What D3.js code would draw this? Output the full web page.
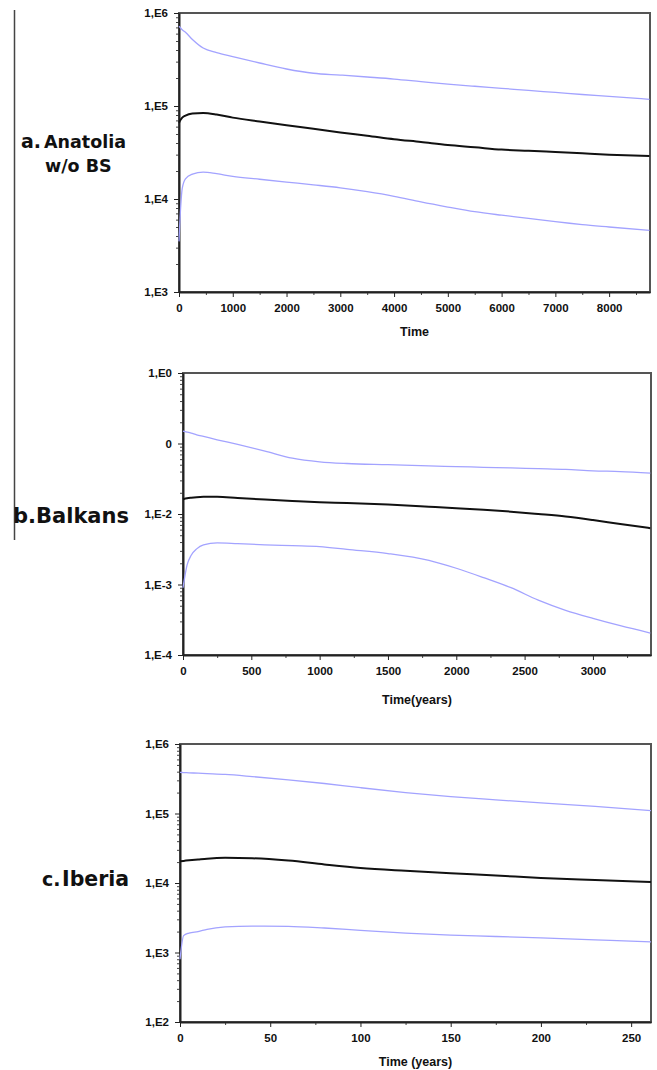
<!DOCTYPE html>
<html>
<head>
<meta charset="utf-8">
<script src="https://cdn.jsdelivr.net/npm/d3@7"></script>
<style>
body { margin: 0; background: #fff; }
</style>
</head>
<body>
<div id="container"></div>
<script>
// Declare the page dimensions.
const width = 657;
const height = 1070;

// Panel a: Anatolia w/o BS
const anatoliaTime = [0, 30, 60, 120, 250, 450, 700, 1000, 1500, 2000, 2500, 3000, 3500, 4000, 4500, 5000, 5500, 6000, 6500, 7000, 7500, 8000, 8750];
const anatoliaUpper = [7.2e5, 6.9e5, 6.6e5, 6.2e5, 5.2e5, 4.2e5, 3.75e5, 3.4e5, 2.9e5, 2.5e5, 2.25e5, 2.15e5, 2.05e5, 1.95e5, 1.83e5, 1.72e5, 1.63e5, 1.55e5, 1.47e5, 1.4e5, 1.33e5, 1.27e5, 1.18e5];
const anatoliaMedian = [6.6e4, 7.1e4, 7.5e4, 7.9e4, 8.3e4, 8.4e4, 8.1e4, 7.5e4, 6.8e4, 6.2e4, 5.7e4, 5.2e4, 4.8e4, 4.4e4, 4.1e4, 3.8e4, 3.6e4, 3.4e4, 3.3e4, 3.2e4, 3.1e4, 3.0e4, 2.9e4];
const anatoliaLower = [3.5e3, 8e3, 1.3e4, 1.65e4, 1.85e4, 1.95e4, 1.87e4, 1.75e4, 1.63e4, 1.52e4, 1.42e4, 1.32e4, 1.2e4, 1.07e4, 9.3e3, 8.2e3, 7.3e3, 6.7e3, 6.2e3, 5.7e3, 5.3e3, 5.0e3, 4.6e3];
const anatoliaXTicks = [0, 1000, 2000, 3000, 4000, 5000, 6000, 7000, 8000];
const anatoliaYTicks = [1e3, 1e4, 1e5, 1e6];
const anatoliaYLabels = ["1,E3", "1,E4", "1,E5", "1,E6"];

// Panel b: Balkans
const balkansTime = [0, 30, 60, 100, 150, 250, 400, 600, 800, 1000, 1200, 1500, 1800, 2000, 2200, 2400, 2600, 2800, 3000, 3200, 3420];
const balkansUpper = [0.15, 0.145, 0.14, 0.133, 0.126, 0.113, 0.097, 0.078, 0.062, 0.055, 0.052, 0.05, 0.048, 0.047, 0.046, 0.045, 0.044, 0.043, 0.041, 0.04, 0.038];
const balkansMedian = [0.0162, 0.0167, 0.017, 0.0173, 0.0175, 0.0175, 0.0168, 0.016, 0.0153, 0.0147, 0.0143, 0.0136, 0.0127, 0.0121, 0.0115, 0.0108, 0.01, 0.0092, 0.0082, 0.0072, 0.0063];
const balkansLower = [9e-4, 1.9e-3, 2.6e-3, 3.2e-3, 3.65e-3, 3.9e-3, 3.8e-3, 3.65e-3, 3.55e-3, 3.45e-3, 3.15e-3, 2.75e-3, 2.2e-3, 1.7e-3, 1.25e-3, 9e-4, 6e-4, 4.3e-4, 3.3e-4, 2.6e-4, 2.05e-4];
const balkansXTicks = [0, 500, 1000, 1500, 2000, 2500, 3000];
const balkansYTicks = [1e-4, 1e-3, 1e-2, 1e-1, 1e0];
const balkansYLabels = ["1,E-4", "1,E-3", "1,E-2", "0", "1,E0"];

// Panel c: Iberia
const iberiaTime = [0, 2, 5, 10, 15, 25, 40, 60, 80, 100, 125, 150, 175, 200, 230, 261];
const iberiaUpper = [3.9e5, 3.88e5, 3.85e5, 3.8e5, 3.75e5, 3.65e5, 3.4e5, 3.05e5, 2.7e5, 2.35e5, 2.0e5, 1.75e5, 1.57e5, 1.42e5, 1.27e5, 1.1e5];
const iberiaMedian = [2.05e4, 2.08e4, 2.12e4, 2.18e4, 2.24e4, 2.3e4, 2.27e4, 2.1e4, 1.85e4, 1.65e4, 1.5e4, 1.38e4, 1.28e4, 1.18e4, 1.1e4, 1.03e4];
const iberiaLower = [800, 1750, 1900, 2000, 2150, 2330, 2400, 2380, 2250, 2080, 1900, 1780, 1700, 1620, 1520, 1420];
const iberiaXTicks = [0, 50, 100, 150, 200, 250];
const iberiaYTicks = [1e2, 1e3, 1e4, 1e5, 1e6];
const iberiaYLabels = ["1,E2", "1,E3", "1,E4", "1,E5", "1,E6"];

const panels = [
	{time: anatoliaTime, upper: anatoliaUpper, median: anatoliaMedian, lower: anatoliaLower,
	 xTicks: anatoliaXTicks, xMax: 8760, yTicks: anatoliaYTicks, yLabels: anatoliaYLabels,
	 top: 13, bottom: 292, left: 179, right: 650, xLabel: "Time", xLabelY: 336},
	{time: balkansTime, upper: balkansUpper, median: balkansMedian, lower: balkansLower,
	 xTicks: balkansXTicks, xMax: 3425, yTicks: balkansYTicks, yLabels: balkansYLabels,
	 top: 373, bottom: 655, left: 183, right: 651, xLabel: "Time(years)", xLabelY: 704},
	{time: iberiaTime, upper: iberiaUpper, median: iberiaMedian, lower: iberiaLower,
	 xTicks: iberiaXTicks, xMax: 261, yTicks: iberiaYTicks, yLabels: iberiaYLabels,
	 top: 744, bottom: 1022, left: 180, right: 651, xLabel: "Time (years)", xLabelY: 1066}
];

// Create the SVG container.
const svg = d3.select("#container").append("svg")
	.attr("width", width)
	.attr("height", height)
	.style("display", "block")
	.style("font-family", "'Liberation Sans', Arial, sans-serif");

// Left vertical bar
svg.append("line")
	.attr("x1", 14.5).attr("x2", 14.5)
	.attr("y1", 10).attr("y2", 540)
	.attr("stroke", "#444")
	.attr("stroke-width", 1.5);

panels.forEach(p => {
	const x = d3.scaleLinear()
		.domain([0, p.xMax])
		.range([p.left, p.right]);

	const y = d3.scaleLog()
		.domain([p.yTicks[0], p.yTicks[p.yTicks.length - 1]])
		.range([p.bottom, p.top]);

	const g = svg.append("g");

	// Frame (top and right)
	g.append("rect")
		.attr("x", p.left)
		.attr("y", p.top)
		.attr("width", p.right - p.left)
		.attr("height", p.bottom - p.top)
		.attr("fill", "none")
		.attr("stroke", "#555")
		.attr("stroke-width", 2);

	// minor ticks
	const step = p.xTicks[1] - p.xTicks[0];
	const xMinor = d3.range(step / 2, p.xMax, step / 2).filter(v => !p.xTicks.includes(v));
	const yMinor = [];
	p.yTicks.slice(0, -1).forEach(d => {
		for (let k = 2; k <= 9; k++) yMinor.push(d * k);
	});

	g.append("g")
		.attr("transform", `translate(0,${p.bottom})`)
		.call(d3.axisBottom(x).tickValues(xMinor).tickSize(3).tickFormat(""))
		.call(a => a.select(".domain").remove())
		.call(a => a.selectAll("line").attr("stroke", "#444"));

	g.append("g")
		.attr("transform", `translate(${p.left},0)`)
		.call(d3.axisLeft(y).tickValues(yMinor).tickSize(3).tickFormat(""))
		.call(a => a.select(".domain").remove())
		.call(a => a.selectAll("line").attr("stroke", "#444"));

	// x-axis
	g.append("g")
		.attr("transform", `translate(0,${p.bottom})`)
		.call(d3.axisBottom(x).tickValues(p.xTicks).tickSize(5).tickPadding(7).tickSizeOuter(0)
			.tickFormat(d3.format("d")))
		.call(a => a.select(".domain").attr("stroke", "#222").attr("stroke-width", 2))
		.call(a => a.selectAll("line").attr("stroke", "#222"))
		.call(a => a.selectAll("text")
			.attr("font-size", 11.5)
			.attr("font-weight", "bold")
			.attr("fill", "#111"));

	// y-axis
	g.append("g")
		.attr("transform", `translate(${p.left},0)`)
		.call(d3.axisLeft(y).tickValues(p.yTicks).tickSize(5).tickPadding(6).tickSizeOuter(0)
			.tickFormat((d, i) => p.yLabels[i]))
		.call(a => a.select(".domain").attr("stroke", "#222").attr("stroke-width", 2))
		.call(a => a.selectAll("line").attr("stroke", "#222"))
		.call(a => a.selectAll("text")
			.attr("font-size", 11.5)
			.attr("font-weight", "bold")
			.attr("fill", "#111"));

	// x-axis label
	g.append("text")
		.attr("x", (p.left + p.right) / 2 + 0)
		.attr("y", p.xLabelY)
		.attr("text-anchor", "middle")
		.attr("font-size", 12.5)
		.attr("font-weight", "bold")
		.attr("fill", "#111")
		.text(p.xLabel);

	const line = d3.line()
		.x((d, i) => x(p.time[i]))
		.y(d => y(d))
		.curve(d3.curveMonotoneX);

	[[p.upper, "#a3a3ff", 1.3], [p.lower, "#a3a3ff", 1.3], [p.median, "#111", 2]].forEach(s => {
		g.append("path")
			.attr("d", line(s[0]))
			.attr("fill", "none")
			.attr("stroke", s[1])
			.attr("stroke-width", s[2]);
	});
});

// Panel titles
const titleFont = "'DejaVu Sans', Verdana, sans-serif";
const titles = svg.append("g")
	.attr("font-family", titleFont)
	.attr("font-weight", "bold")
	.attr("fill", "#111");

titles.append("text").attr("x", 21).attr("y", 148).attr("font-size", 19).text("a.");
titles.append("text").attr("x", 44).attr("y", 148).attr("font-size", 17.5).text("Anatolia");
titles.append("text").attr("x", 45).attr("y", 172).attr("font-size", 17.5).text("w/o BS");

titles.append("text").attr("x", 13).attr("y", 523).attr("font-size", 21).text("b.");
titles.append("text").attr("x", 36).attr("y", 523).attr("font-size", 21).text("Balkans");

titles.append("text").attr("x", 42).attr("y", 886).attr("font-size", 19).text("c.");
titles.append("text").attr("x", 62).attr("y", 886).attr("font-size", 20.5).text("Iberia");
</script>
</body>
</html>
